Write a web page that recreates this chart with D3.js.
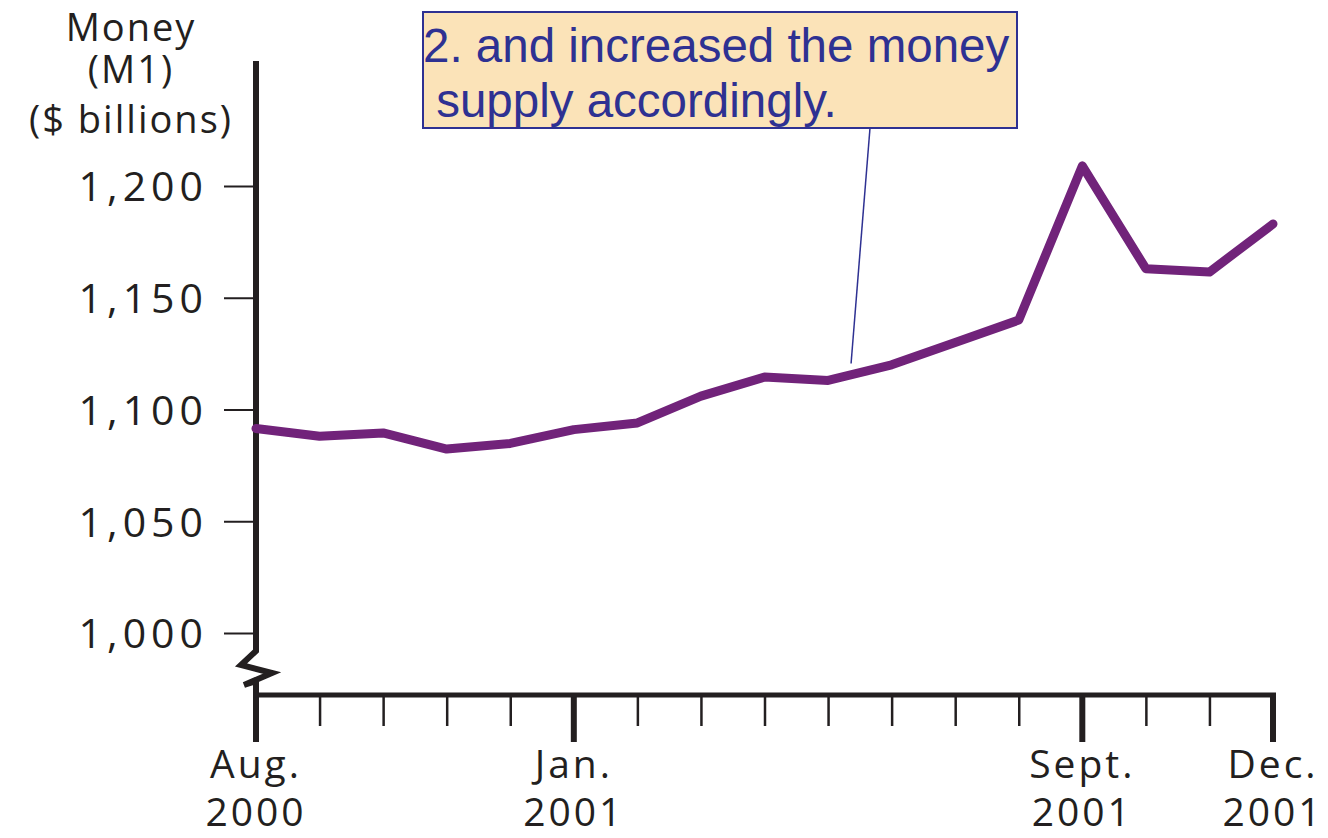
<!DOCTYPE html>
<html>
<head>
<meta charset="utf-8">
<script src="https://cdn.jsdelivr.net/npm/d3@7"></script>
<style>
  body { margin: 0; background: #fff; }
  svg { display: block; }
</style>
</head>
<body>
<div id="chart"></div>
<script>
'use strict';

// monthly M1, Aug 2000 .. Dec 2001
const months = ["2000-08", "2000-09", "2000-10", "2000-11", "2000-12",
  "2001-01", "2001-02", "2001-03", "2001-04", "2001-05", "2001-06",
  "2001-07", "2001-08", "2001-09", "2001-10", "2001-11", "2001-12"];
const money = [1091.5, 1088, 1089.5, 1082.3, 1084.8, 1091, 1094, 1106, 1114.5,
  1113, 1120, 1130, 1140, 1209, 1163, 1161.5, 1183];

const majorMonths = ["2000-08", "2001-01", "2001-09", "2001-12"];
const majorLabels = [["Aug.", "2000"], ["Jan.", "2001"], ["Sept.", "2001"], ["Dec.", "2001"]];
const yTicks = [1000, 1050, 1100, 1150, 1200];
const yTitle = ["Money", "(M1)", "($ billions)"];
const note = ["2. and increased the money", " supply accordingly."];

const msm = {
  width: 1328,
  height: 838,
  left: 256,
  right: 1273,
  top: 61,
  axisY: 695
};

const labelFont = "'Open Sans', sans-serif";
const ink = "#231f20";

const svg = d3.select('#chart')
  .append('svg')
  .attr('width', msm.width)
  .attr('height', msm.height);

const x = d3.scalePoint()
  .domain(months)
  .range([msm.left, msm.right]);

const y = d3.scaleLinear()
  .domain([1000, 1200])
  .range([633, 186]);

// y ticks + labels
const yAxis = d3.axisLeft(y)
  .tickValues(yTicks)
  .tickSize(32)
  .tickPadding(16)
  .tickFormat(d3.format(","));

svg.append('g')
  .attr('transform', 'translate(' + msm.left + ',0)')
  .call(yAxis)
  .call(g => g.select('.domain').remove())
  .call(g => g.selectAll('line').attr('stroke', ink).attr('stroke-width', 2))
  .call(g => g.selectAll('text')
    .attr('fill', ink)
    .attr('dy', '0.36em')
    .style('font-family', labelFont)
    .style('font-size', '41px')
    .style('letter-spacing', '5px'));

// x minor ticks
const xAxis = d3.axisBottom(x)
  .tickSize(31)
  .tickFormat('');

svg.append('g')
  .attr('transform', 'translate(0,' + msm.axisY + ')')
  .call(xAxis)
  .call(g => g.select('.domain').remove())
  .call(g => g.selectAll('line').attr('stroke', ink).attr('stroke-width', 2.5));

// x major ticks
svg.selectAll('.major')
  .data(majorMonths)
  .enter()
  .append('line')
    .attr('x1', d => x(d))
    .attr('x2', d => x(d))
    .attr('y1', msm.axisY)
    .attr('y2', msm.axisY + 47)
    .attr('stroke', ink)
    .attr('stroke-width', 6);

// x axis line
svg.append('line')
  .attr('x1', msm.left - 3)
  .attr('x2', msm.right + 3)
  .attr('y1', msm.axisY)
  .attr('y2', msm.axisY)
  .attr('stroke', ink)
  .attr('stroke-width', 5);

// y axis line with break
svg.append('path')
  .attr('d', d3.line()([[msm.left, msm.top], [msm.left, 651], [241, 665], [272, 673],
    [244, 685], [256, 681], [msm.left, msm.axisY + 2]]))
  .attr('fill', 'none')
  .attr('stroke', ink)
  .attr('stroke-width', 6)
  .attr('stroke-linejoin', 'miter');

// x labels (two lines each)
[0, 1].forEach(row => {
  svg.selectAll('.xlab' + row)
    .data(majorMonths)
    .enter()
    .append('text')
      .attr('x', d => x(d))
      .attr('y', row === 0 ? 778 : 826)
      .attr('text-anchor', 'middle')
      .attr('fill', ink)
      .style('font-family', labelFont)
      .style('font-size', '39px')
      .style('letter-spacing', '3px')
      .text((d, i) => majorLabels[i][row]);
});

// y title
svg.selectAll('.ytitle')
  .data(yTitle)
  .enter()
  .append('text')
    .attr('x', 131)
    .attr('y', (d, i) => [41, 83, 133][i])
    .attr('text-anchor', 'middle')
    .attr('fill', ink)
    .style('font-family', labelFont)
    .style('font-size', '38px')
    .style('font-weight', 500)
    .style('letter-spacing', '2px')
    .text(d => d);

// data line
svg.append('path')
  .datum(months)
  .attr('fill', 'none')
  .attr('stroke', '#71237a')
  .attr('stroke-width', 9)
  .attr('stroke-linejoin', 'round')
  .attr('stroke-linecap', 'round')
  .attr('d', d3.line()
    .x(d => x(d))
    .y((d, i) => y(money[i])));

// callout
const leadIdx = months.indexOf("2001-05");
svg.append('line')
  .attr('x1', 870)
  .attr('y1', 128)
  .attr('x2', x(months[leadIdx]) + 23)
  .attr('y2', y(money[leadIdx]) - 17)
  .attr('stroke', '#2e3192')
  .attr('stroke-width', 1.5);

svg.append('rect')
  .attr('x', 423)
  .attr('y', 12)
  .attr('width', 594)
  .attr('height', 116)
  .attr('fill', '#fbe3b8')
  .attr('stroke', '#2e3192')
  .attr('stroke-width', 2);

svg.selectAll('.note')
  .data(note)
  .enter()
  .append('text')
    .attr('x', 423)
    .attr('y', (d, i) => 62 + i * 55)
    .attr('fill', '#2e3192')
    .attr('xml:space', 'preserve')
    .style('white-space', 'pre')
    .style('font-family', "'Liberation Sans', Arial, sans-serif")
    .style('font-size', '47.5px')
    .text(d => d);
</script>
</body>
</html>
